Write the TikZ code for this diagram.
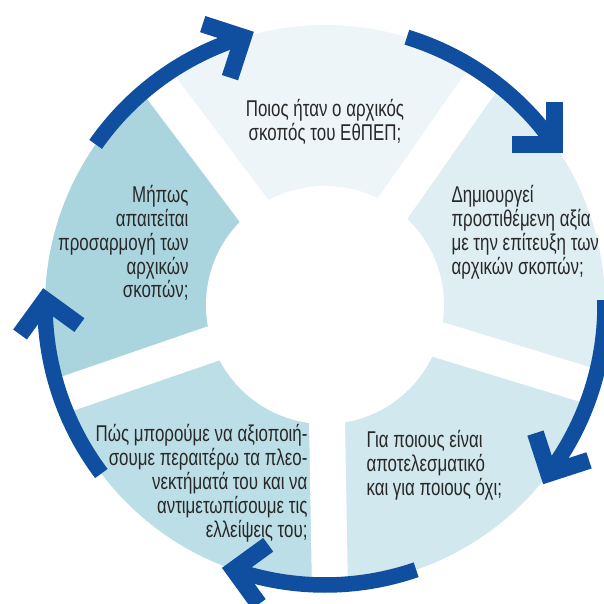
\documentclass[tikz,border=0pt]{standalone}
\usepackage{fontspec}
\setmainfont{Liberation Sans}[FakeStretch=0.74]
\usepackage{tikz}
\definecolor{arrow_blue}{RGB}{16,78,160}
\definecolor{sector_top}{RGB}{238,245,249}
\definecolor{sector_right}{RGB}{222,238,243}
\definecolor{sector_botr}{RGB}{208,232,238}
\definecolor{sector_botl}{RGB}{188,222,230}
\definecolor{sector_left}{RGB}{170,213,223}
\definecolor{text_gray}{RGB}{40,40,40}

\begin{document}
\begin{tikzpicture}[semithick]
    \tikzstyle{label}=[text=text_gray, inner sep=0pt, font=\fontsize{13}{13.6}\selectfont]
    \tikzstyle{cycle}=[arrow_blue, line width=0.31cm, line cap=butt]
    \tikzstyle{chevron}=[style=cycle, line width=0.34cm, line join=miter]
    \tikzstyle{gap}=[white, line width=0.72cm]

    \useasboundingbox (0,0) rectangle (12.08,12.08);

    \begin{scope}[shift={(6.5,5.98)}]
    % the five sectors
    \fill[sector_top]   (0,0) -- (55:5.6)  arc[start angle=55,  end angle=127, radius=5.6] -- cycle;
    \fill[sector_left]  (0,0) -- (127:5.6) arc[start angle=127, end angle=199, radius=5.6] -- cycle;
    \fill[sector_botl]  (0,0) -- (199:5.6) arc[start angle=199, end angle=271, radius=5.6] -- cycle;
    \fill[sector_botr]  (0,0) -- (271:5.6) arc[start angle=271, end angle=343, radius=5.6] -- cycle;
    \fill[sector_right] (0,0) -- (343:5.6) arc[start angle=343, end angle=415, radius=5.6] -- cycle;

    % white gaps and hub
    \foreach \a in {55,127,199,271,343}
      \draw[gap] (0,0) -- (\a:6);
    \fill[white] (0,0) circle (2.38);

    % arrows round the ring
    \foreach \a [evaluate=\a as \b using \a-38] in {73,1,-71,-143,-215} {
      \draw[cycle] (\a:5.6) arc[start angle=\a, end angle=\b, radius=5.6];
      \draw[chevron] (\b:5.6) ++(\b+55:0.85) -- (\b:5.6) -- ++(\b+145:0.85);
    }
    \end{scope}

    \node[label, align=center]          (Q1) at (6.50,9.64) {Ποιος ήταν ο αρχικός\\σκοπός του ΕθΠΕΠ;};
    \node[label, align=left,  anchor=west] (Q2) at (9.02,7.44) {Δημιουργεί\\προστιθέμενη αξία\\με την επίτευξη των\\αρχικών σκοπών;};
    \node[label, align=left,  anchor=west] (Q3) at (7.32,2.78) {Για ποιους είναι\\αποτελεσματικό\\και για ποιους όχι;};
    \node[label, align=right, anchor=east] (Q4) at (6.16,2.42) {Πώς μπορούμε να αξιοποιή-\\σουμε περαιτέρω τα πλεο-\\νεκτήματά του και να\\αντιμετωπίσουμε τις\\ελλείψεις του;};
    \node[label, align=right, anchor=east] (Q5) at (3.78,7.22) {Μήπως\\απαιτείται\\προσαρμογή των\\αρχικών\\σκοπών;};
\end{tikzpicture}
\end{document}
